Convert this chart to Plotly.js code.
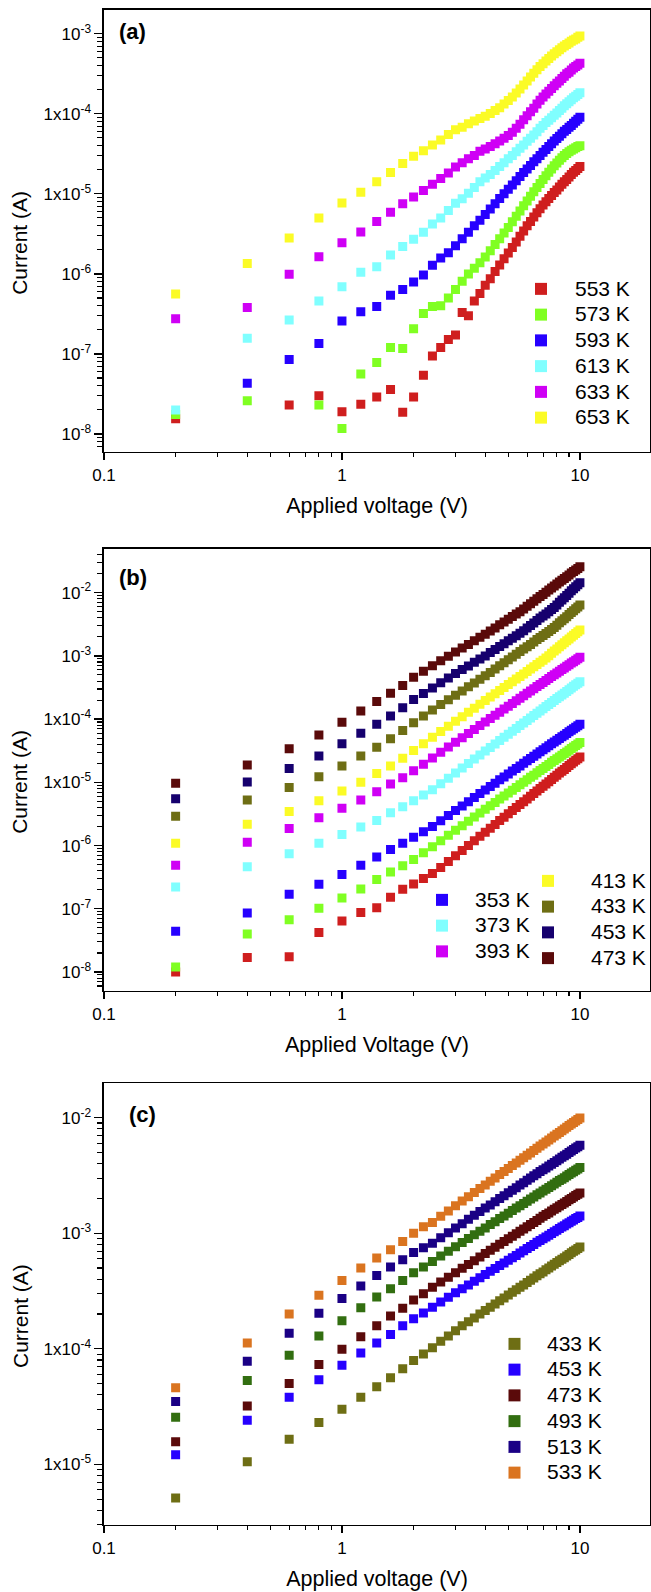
<!DOCTYPE html>
<html>
<head>
<meta charset="utf-8">
<script src="https://cdn.plot.ly/plotly-3.0.1.min.js"></script>
<style>
  html, body { margin: 0; padding: 0; background: #fff; }
  #chart { width: 651px; height: 1592px; }
</style>
</head>
<body>
<div id="chart"></div>
<script>
// Applied voltage (V), shared by all three panels
const V = [0.2, 0.4, 0.6, 0.8, 1.0, 1.2, 1.4, 1.6, 1.8, 2.0,
           2.2, 2.4, 2.6, 2.8, 3.0, 3.2, 3.4, 3.6, 3.8, 4.0,
           4.2, 4.4, 4.6, 4.8, 5.0, 5.2, 5.4, 5.6, 5.8, 6.0,
           6.2, 6.4, 6.6, 6.8, 7.0, 7.2, 7.4, 7.6, 7.8, 8.0,
           8.2, 8.4, 8.6, 8.8, 9.0, 9.2, 9.4, 9.6, 9.8, 10.0];

// ---- Panel (a): current (A) ----
const a553 = [1.55e-8, null, 2.3e-8, 3.0e-8, 1.9e-8, 2.35e-8, 2.9e-8, 3.6e-8, 1.87e-8, 2.9e-8,
  5.4e-8, 9.4e-8, 1.2e-7, 1.52e-7, 1.73e-7, 3.3e-7, 3.0e-7, 4.6e-7, 5.7e-7, 7.2e-7,
  8.7e-7, 1.07e-6, 1.29e-6, 1.55e-6, 1.82e-6, 2.14e-6, 2.51e-6, 2.95e-6, 3.43e-6, 3.98e-6,
  4.52e-6, 5.13e-6, 5.82e-6, 6.53e-6, 7.24e-6, 7.94e-6, 8.71e-6, 9.55e-6, 1.04e-5, 1.12e-5,
  1.22e-5, 1.32e-5, 1.41e-5, 1.51e-5, 1.62e-5, 1.74e-5, 1.86e-5, 1.95e-5, 2.07e-5, 2.19e-5];
const a573 = [1.75e-8, 2.6e-8, null, 2.3e-8, 1.17e-8, 5.6e-8, 7.8e-8, 1.2e-7, 1.17e-7, 2.07e-7,
  3.2e-7, 3.9e-7, 4.0e-7, 5.0e-7, 6.4e-7, 8.1e-7, 1.0e-6, 1.18e-6, 1.38e-6, 1.62e-6,
  1.95e-6, 2.32e-6, 2.75e-6, 3.24e-6, 3.80e-6, 4.47e-6, 5.25e-6, 6.10e-6, 7.08e-6, 8.13e-6,
  9.33e-6, 1.06e-5, 1.20e-5, 1.35e-5, 1.51e-5, 1.68e-5, 1.86e-5, 2.04e-5, 2.24e-5, 2.43e-5,
  2.63e-5, 2.82e-5, 3.02e-5, 3.20e-5, 3.35e-5, 3.51e-5, 3.63e-5, 3.76e-5, 3.89e-5, 3.98e-5];
const a593 = [null, 4.3e-8, 8.5e-8, 1.35e-7, 2.57e-7, 3.37e-7, 3.9e-7, 5.4e-7, 6.4e-7, 7.9e-7,
  9.7e-7, 1.28e-6, 1.58e-6, 1.84e-6, 2.24e-6, 2.75e-6, 3.31e-6, 3.98e-6, 4.68e-6, 5.50e-6,
  6.46e-6, 7.50e-6, 8.71e-6, 1.00e-5, 1.14e-5, 1.29e-5, 1.46e-5, 1.64e-5, 1.84e-5, 2.04e-5,
  2.26e-5, 2.51e-5, 2.75e-5, 3.02e-5, 3.31e-5, 3.59e-5, 3.89e-5, 4.22e-5, 4.57e-5, 4.90e-5,
  5.25e-5, 5.62e-5, 6.03e-5, 6.38e-5, 6.76e-5, 7.16e-5, 7.59e-5, 8.04e-5, 8.51e-5, 9.02e-5];
const a613 = [2.0e-8, 1.57e-7, 2.65e-7, 4.6e-7, 6.9e-7, 1.05e-6, 1.23e-6, 1.72e-6, 2.2e-6, 2.7e-6,
  3.3e-6, 4.2e-6, 5.0e-6, 6.2e-6, 7.6e-6, 8.7e-6, 1.02e-5, 1.2e-5, 1.41e-5, 1.58e-5,
  1.74e-5, 1.95e-5, 2.19e-5, 2.45e-5, 2.75e-5, 3.02e-5, 3.35e-5, 3.72e-5, 4.07e-5, 4.52e-5,
  4.95e-5, 5.43e-5, 5.96e-5, 6.61e-5, 7.16e-5, 7.76e-5, 8.32e-5, 8.91e-5, 9.55e-5, 1.02e-4,
  1.10e-4, 1.17e-4, 1.26e-4, 1.33e-4, 1.41e-4, 1.50e-4, 1.58e-4, 1.66e-4, 1.74e-4, 1.83e-4];
const a633 = [2.75e-7, 3.8e-7, 9.9e-7, 1.64e-6, 2.45e-6, 3.33e-6, 4.5e-6, 5.9e-6, 7.5e-6, 9.1e-6,
  1.1e-5, 1.32e-5, 1.55e-5, 1.82e-5, 2.16e-5, 2.45e-5, 2.75e-5, 3.02e-5, 3.39e-5, 3.63e-5,
  3.89e-5, 4.22e-5, 4.57e-5, 4.95e-5, 5.37e-5, 5.89e-5, 6.61e-5, 7.41e-5, 8.41e-5, 9.44e-5,
  1.06e-4, 1.17e-4, 1.32e-4, 1.48e-4, 1.62e-4, 1.76e-4, 1.91e-4, 2.07e-4, 2.24e-4, 2.40e-4,
  2.57e-4, 2.75e-4, 2.95e-4, 3.16e-4, 3.31e-4, 3.51e-4, 3.72e-4, 3.89e-4, 4.07e-4, 4.27e-4];
const a653 = [5.6e-7, 1.35e-6, 2.8e-6, 5.0e-6, 7.7e-6, 1.05e-5, 1.42e-5, 1.85e-5, 2.4e-5, 2.95e-5,
  3.46e-5, 4.07e-5, 4.7e-5, 5.5e-5, 6.3e-5, 6.8e-5, 7.5e-5, 8.1e-5, 8.7e-5, 9.3e-5,
  1.01e-4, 1.10e-4, 1.19e-4, 1.32e-4, 1.46e-4, 1.62e-4, 1.82e-4, 2.04e-4, 2.29e-4, 2.57e-4,
  2.88e-4, 3.20e-4, 3.55e-4, 3.89e-4, 4.22e-4, 4.57e-4, 4.90e-4, 5.25e-4, 5.62e-4, 5.96e-4,
  6.31e-4, 6.68e-4, 7.00e-4, 7.33e-4, 7.67e-4, 8.04e-4, 8.32e-4, 8.61e-4, 9.02e-4, 9.33e-4];

// ---- Panel (b): current (A) ----
const bRed = [1.0e-8, 1.7e-8, 1.74e-8, 4.2e-8, 6.4e-8, 8.7e-8, 1.04e-7, 1.52e-7, 2.04e-7, 2.46e-7,
  3.0e-7, 3.6e-7, 4.5e-7, 5.61e-7, 6.89e-7, 8.36e-7, 1.00e-6, 1.19e-6, 1.40e-6, 1.63e-6,
  1.88e-6, 2.16e-6, 2.48e-6, 2.81e-6, 3.18e-6, 3.57e-6, 3.99e-6, 4.46e-6, 4.94e-6, 5.47e-6,
  6.03e-6, 6.64e-6, 7.31e-6, 8.00e-6, 8.69e-6, 9.44e-6, 1.02e-5, 1.11e-5, 1.20e-5, 1.29e-5,
  1.40e-5, 1.50e-5, 1.60e-5, 1.72e-5, 1.84e-5, 1.97e-5, 2.09e-5, 2.23e-5, 2.37e-5, 2.52e-5];
const bGreen = [1.2e-8, 4.0e-8, 6.7e-8, 1.02e-7, 1.48e-7, 2.05e-7, 2.9e-7, 3.8e-7, 4.8e-7, 6.0e-7,
  7.7e-7, 9.6e-7, 1.19e-6, 1.45e-6, 1.74e-6, 2.06e-6, 2.42e-6, 2.82e-6, 3.27e-6, 3.74e-6,
  4.25e-6, 4.81e-6, 5.43e-6, 6.07e-6, 6.78e-6, 7.52e-6, 8.28e-6, 9.14e-6, 1.00e-5, 1.10e-5,
  1.20e-5, 1.30e-5, 1.42e-5, 1.54e-5, 1.66e-5, 1.78e-5, 1.92e-5, 2.07e-5, 2.21e-5, 2.36e-5,
  2.52e-5, 2.69e-5, 2.86e-5, 3.03e-5, 3.23e-5, 3.43e-5, 3.62e-5, 3.83e-5, 4.05e-5, 4.28e-5];
const b353 = [4.4e-8, 8.6e-8, 1.7e-7, 2.44e-7, 3.5e-7, 4.9e-7, 6.6e-7, 8.7e-7, 1.09e-6, 1.35e-6,
  1.66e-6, 2.0e-6, 2.47e-6, 2.99e-6, 3.58e-6, 4.24e-6, 4.95e-6, 5.75e-6, 6.65e-6, 7.59e-6,
  8.61e-6, 9.70e-6, 1.10e-5, 1.22e-5, 1.36e-5, 1.51e-5, 1.66e-5, 1.82e-5, 2.00e-5, 2.19e-5,
  2.38e-5, 2.59e-5, 2.81e-5, 3.04e-5, 3.27e-5, 3.52e-5, 3.78e-5, 4.06e-5, 4.34e-5, 4.63e-5,
  4.95e-5, 5.26e-5, 5.58e-5, 5.93e-5, 6.30e-5, 6.68e-5, 7.06e-5, 7.45e-5, 7.87e-5, 8.30e-5];
const b373 = [2.2e-7, 4.6e-7, 7.4e-7, 1.09e-6, 1.5e-6, 1.96e-6, 2.5e-6, 3.3e-6, 4.1e-6, 5.1e-6,
  6.3e-6, 7.6e-6, 9.50e-6, 1.16e-5, 1.41e-5, 1.68e-5, 1.99e-5, 2.33e-5, 2.71e-5, 3.12e-5,
  3.56e-5, 4.05e-5, 4.59e-5, 5.15e-5, 5.77e-5, 6.43e-5, 7.13e-5, 7.89e-5, 8.67e-5, 9.53e-5,
  1.04e-4, 1.14e-4, 1.24e-4, 1.35e-4, 1.46e-4, 1.58e-4, 1.70e-4, 1.84e-4, 1.97e-4, 2.11e-4,
  2.26e-4, 2.41e-4, 2.57e-4, 2.74e-4, 2.92e-4, 3.11e-4, 3.30e-4, 3.49e-4, 3.69e-4, 3.91e-4];
const b393 = [4.9e-7, 1.13e-6, 1.86e-6, 2.76e-6, 3.9e-6, 5.25e-6, 7.1e-6, 9.4e-6, 1.18e-5, 1.52e-5,
  1.94e-5, 2.43e-5, 2.99e-5, 3.61e-5, 4.31e-5, 5.08e-5, 5.93e-5, 6.87e-5, 7.92e-5, 9.03e-5,
  1.02e-4, 1.15e-4, 1.29e-4, 1.44e-4, 1.60e-4, 1.77e-4, 1.95e-4, 2.14e-4, 2.34e-4, 2.56e-4,
  2.78e-4, 3.02e-4, 3.28e-4, 3.54e-4, 3.80e-4, 4.08e-4, 4.39e-4, 4.71e-4, 5.02e-4, 5.36e-4,
  5.71e-4, 6.07e-4, 6.44e-4, 6.84e-4, 7.24e-4, 7.69e-4, 8.11e-4, 8.55e-4, 9.02e-4, 9.53e-4];
const b413 = [1.09e-6, 2.17e-6, 3.45e-6, 5.1e-6, 7.3e-6, 1.0e-5, 1.38e-5, 1.82e-5, 2.4e-5, 3.2e-5,
  4.09e-5, 5.15e-5, 6.37e-5, 7.73e-5, 9.25e-5, 1.09e-4, 1.28e-4, 1.49e-4, 1.72e-4, 1.97e-4,
  2.23e-4, 2.52e-4, 2.84e-4, 3.17e-4, 3.53e-4, 3.91e-4, 4.31e-4, 4.74e-4, 5.19e-4, 5.69e-4,
  6.18e-4, 6.73e-4, 7.33e-4, 7.92e-4, 8.51e-4, 9.27e-4, 1.01e-3, 1.10e-3, 1.19e-3, 1.29e-3,
  1.39e-3, 1.50e-3, 1.61e-3, 1.73e-3, 1.85e-3, 1.99e-3, 2.12e-3, 2.26e-3, 2.42e-3, 2.57e-3];
const b433 = [2.9e-6, 5.25e-6, 8.3e-6, 1.23e-5, 1.82e-5, 2.6e-5, 3.6e-5, 4.9e-5, 6.6e-5, 8.8e-5,
  1.12e-4, 1.40e-4, 1.70e-4, 2.02e-4, 2.38e-4, 2.79e-4, 3.24e-4, 3.73e-4, 4.28e-4, 4.84e-4,
  5.48e-4, 6.19e-4, 6.98e-4, 7.78e-4, 8.67e-4, 9.62e-4, 1.06e-3, 1.17e-3, 1.28e-3, 1.40e-3,
  1.52e-3, 1.66e-3, 1.81e-3, 1.95e-3, 2.10e-3, 2.26e-3, 2.44e-3, 2.62e-3, 2.82e-3, 3.06e-3,
  3.33e-3, 3.60e-3, 3.87e-3, 4.18e-3, 4.51e-3, 4.86e-3, 5.20e-3, 5.57e-3, 5.96e-3, 6.38e-3];
const b453 = [5.5e-6, 1.01e-5, 1.66e-5, 2.6e-5, 4.07e-5, 6.0e-5, 8.3e-5, 1.12e-4, 1.51e-4, 2.04e-4,
  2.55e-4, 3.12e-4, 3.77e-4, 4.48e-4, 5.25e-4, 6.07e-4, 6.95e-4, 7.91e-4, 8.95e-4, 1.00e-3,
  1.13e-3, 1.26e-3, 1.41e-3, 1.56e-3, 1.73e-3, 1.90e-3, 2.08e-3, 2.28e-3, 2.51e-3, 2.77e-3,
  3.03e-3, 3.32e-3, 3.64e-3, 3.96e-3, 4.28e-3, 4.62e-3, 5.00e-3, 5.41e-3, 5.85e-3, 6.41e-3,
  7.03e-3, 7.64e-3, 8.30e-3, 9.03e-3, 9.82e-3, 1.07e-2, 1.15e-2, 1.24e-2, 1.33e-2, 1.44e-2];
const b473 = [9.7e-6, 1.88e-5, 3.4e-5, 5.6e-5, 8.9e-5, 1.35e-4, 1.9e-4, 2.57e-4, 3.4e-4, 4.61e-4,
  5.71e-4, 6.97e-4, 8.36e-4, 9.86e-4, 1.15e-3, 1.33e-3, 1.52e-3, 1.74e-3, 1.97e-3, 2.21e-3,
  2.48e-3, 2.77e-3, 3.10e-3, 3.44e-3, 3.80e-3, 4.19e-3, 4.58e-3, 5.01e-3, 5.52e-3, 6.08e-3,
  6.67e-3, 7.30e-3, 8.00e-3, 8.71e-3, 9.40e-3, 1.02e-2, 1.10e-2, 1.19e-2, 1.28e-2, 1.37e-2,
  1.47e-2, 1.57e-2, 1.67e-2, 1.79e-2, 1.91e-2, 2.04e-2, 2.16e-2, 2.29e-2, 2.42e-2, 2.57e-2];

// ---- Panel (c): current (A) ----
const c433 = [5.1e-6, 1.05e-5, 1.65e-5, 2.3e-5, 3.0e-5, 3.8e-5, 4.7e-5, 5.6e-5, 6.7e-5, 7.9e-5,
  9.0e-5, 1.02e-4, 1.16e-4, 1.29e-4, 1.43e-4, 1.58e-4, 1.71e-4, 1.85e-4, 2.00e-4, 2.14e-4,
  2.29e-4, 2.44e-4, 2.60e-4, 2.75e-4, 2.92e-4, 3.08e-4, 3.24e-4, 3.40e-4, 3.57e-4, 3.75e-4,
  3.92e-4, 4.09e-4, 4.28e-4, 4.47e-4, 4.63e-4, 4.82e-4, 5.00e-4, 5.20e-4, 5.38e-4, 5.57e-4,
  5.78e-4, 5.96e-4, 6.15e-4, 6.35e-4, 6.56e-4, 6.78e-4, 6.97e-4, 7.16e-4, 7.38e-4, 7.59e-4];
const c453 = [1.21e-5, 2.4e-5, 3.8e-5, 5.4e-5, 7.2e-5, 9.2e-5, 1.12e-4, 1.33e-4, 1.58e-4, 1.82e-4,
  2.04e-4, 2.29e-4, 2.54e-4, 2.79e-4, 3.05e-4, 3.30e-4, 3.56e-4, 3.84e-4, 4.12e-4, 4.40e-4,
  4.68e-4, 4.95e-4, 5.26e-4, 5.53e-4, 5.83e-4, 6.14e-4, 6.43e-4, 6.75e-4, 7.05e-4, 7.36e-4,
  7.67e-4, 8.00e-4, 8.34e-4, 8.65e-4, 8.95e-4, 9.29e-4, 9.62e-4, 9.95e-4, 1.03e-3, 1.06e-3,
  1.10e-3, 1.13e-3, 1.16e-3, 1.20e-3, 1.23e-3, 1.27e-3, 1.30e-3, 1.34e-3, 1.37e-3, 1.41e-3];
const c473 = [1.57e-5, 3.2e-5, 5.0e-5, 7.3e-5, 9.9e-5, 1.27e-4, 1.58e-4, 1.92e-4, 2.24e-4, 2.64e-4,
  3.0e-4, 3.4e-4, 3.78e-4, 4.16e-4, 4.56e-4, 4.97e-4, 5.37e-4, 5.79e-4, 6.24e-4, 6.67e-4,
  7.11e-4, 7.55e-4, 8.04e-4, 8.47e-4, 8.95e-4, 9.44e-4, 9.91e-4, 1.04e-3, 1.09e-3, 1.14e-3,
  1.19e-3, 1.24e-3, 1.29e-3, 1.35e-3, 1.40e-3, 1.45e-3, 1.50e-3, 1.56e-3, 1.61e-3, 1.66e-3,
  1.72e-3, 1.77e-3, 1.83e-3, 1.88e-3, 1.95e-3, 2.00e-3, 2.06e-3, 2.12e-3, 2.18e-3, 2.23e-3];
const c493 = [2.55e-5, 5.3e-5, 8.8e-5, 1.29e-4, 1.75e-4, 2.26e-4, 2.8e-4, 3.3e-4, 3.9e-4, 4.55e-4,
  5.1e-4, 5.7e-4, 6.34e-4, 6.98e-4, 7.64e-4, 8.32e-4, 8.99e-4, 9.70e-4, 1.04e-3, 1.11e-3,
  1.19e-3, 1.26e-3, 1.34e-3, 1.41e-3, 1.49e-3, 1.57e-3, 1.65e-3, 1.73e-3, 1.81e-3, 1.89e-3,
  1.98e-3, 2.06e-3, 2.15e-3, 2.23e-3, 2.32e-3, 2.40e-3, 2.49e-3, 2.58e-3, 2.67e-3, 2.76e-3,
  2.86e-3, 2.94e-3, 3.03e-3, 3.13e-3, 3.22e-3, 3.32e-3, 3.41e-3, 3.51e-3, 3.60e-3, 3.70e-3];
const c513 = [3.5e-5, 7.8e-5, 1.36e-4, 2.03e-4, 2.73e-4, 3.5e-4, 4.3e-4, 5.1e-4, 5.9e-4, 6.8e-4,
  7.5e-4, 8.2e-4, 9.14e-4, 1.01e-3, 1.11e-3, 1.21e-3, 1.32e-3, 1.43e-3, 1.54e-3, 1.65e-3,
  1.76e-3, 1.87e-3, 2.00e-3, 2.11e-3, 2.24e-3, 2.36e-3, 2.48e-3, 2.61e-3, 2.74e-3, 2.88e-3,
  3.01e-3, 3.14e-3, 3.28e-3, 3.42e-3, 3.55e-3, 3.68e-3, 3.82e-3, 3.96e-3, 4.10e-3, 4.25e-3,
  4.40e-3, 4.54e-3, 4.69e-3, 4.84e-3, 5.00e-3, 5.16e-3, 5.31e-3, 5.46e-3, 5.61e-3, 5.77e-3];
const c533 = [4.6e-5, 1.12e-4, 2.0e-4, 2.9e-4, 3.9e-4, 5.0e-4, 6.1e-4, 7.2e-4, 8.5e-4, 1.0e-3,
  1.14e-3, 1.24e-3, 1.40e-3, 1.56e-3, 1.73e-3, 1.90e-3, 2.07e-3, 2.25e-3, 2.44e-3, 2.62e-3,
  2.82e-3, 3.01e-3, 3.22e-3, 3.42e-3, 3.63e-3, 3.85e-3, 4.06e-3, 4.28e-3, 4.50e-3, 4.73e-3,
  4.95e-3, 5.20e-3, 5.45e-3, 5.69e-3, 5.93e-3, 6.17e-3, 6.43e-3, 6.68e-3, 6.93e-3, 7.19e-3,
  7.46e-3, 7.73e-3, 7.98e-3, 8.26e-3, 8.55e-3, 8.83e-3, 9.10e-3, 9.38e-3, 9.66e-3, 9.95e-3];

// Tick labels
const xTickVals = [0.1, 1, 10];
const xTickText = ['0.1', '1', '10'];
const yTickValsA = [1e-8, 1e-7, 1e-6, 1e-5, 1e-4, 1e-3];
const yTickTextA = ['10<sup>-8</sup>', '10<sup>-7</sup>', '10<sup>-6</sup>', '1x10<sup>-5</sup>', '1x10<sup>-4</sup>', '10<sup>-3</sup>'];
const yTickValsB = [1e-8, 1e-7, 1e-6, 1e-5, 1e-4, 1e-3, 1e-2];
const yTickTextB = ['10<sup>-8</sup>', '10<sup>-7</sup>', '10<sup>-6</sup>', '1x10<sup>-5</sup>', '1x10<sup>-4</sup>', '10<sup>-3</sup>', '10<sup>-2</sup>'];
const yTickValsC = [1e-5, 1e-4, 1e-3, 1e-2];
const yTickTextC = ['1x10<sup>-5</sup>', '1x10<sup>-4</sup>', '10<sup>-3</sup>', '10<sup>-2</sup>'];

// Colours
const COL = {
  red: '#cf1e1e', green: '#80ff22', blue: '#2600ff', cyan: '#80ffff',
  magenta: '#cf00f5', yellow: '#fbfb26', olive: '#6e6e14', navy: '#16006e',
  wine: '#5a0a0a', forest: '#326e10', navy2: '#1a0085', orange: '#da7420'
};

const W = 651, H = 1592;
const FONT = 'Liberation Sans, Arial, Helvetica, sans-serif';
const px = x => x / W;            // horizontal pixel -> paper
const py = y => 1 - y / H;        // vertical pixel -> paper

function series(y, name, color, ax, legend, show) {
  return {
    x: V, y: y, name: '<span style="font-size:21px">' + name + '</span>',
    type: 'scatter', mode: 'markers',
    xaxis: 'x' + ax, yaxis: 'y' + ax,
    marker: { symbol: 'square', size: 9, color: color, line: { width: 0 } },
    legend: legend, showlegend: show !== false,
    hoverinfo: 'x+y'
  };
}

const data = [
  series(a553, '553 K', COL.red, '', 'legend'),
  series(a573, '573 K', COL.green, '', 'legend'),
  series(a593, '593 K', COL.blue, '', 'legend'),
  series(a613, '613 K', COL.cyan, '', 'legend'),
  series(a633, '633 K', COL.magenta, '', 'legend'),
  series(a653, '653 K', COL.yellow, '', 'legend'),

  series(bRed, 'b1', COL.red, '2', 'legend2', false),
  series(bGreen, 'b2', COL.green, '2', 'legend2', false),
  series(b353, '353 K', COL.blue, '2', 'legend2'),
  series(b373, '373 K', COL.cyan, '2', 'legend2'),
  series(b393, '393 K', COL.magenta, '2', 'legend2'),
  series(b413, '413 K', COL.yellow, '2', 'legend3'),
  series(b433, '433 K', COL.olive, '2', 'legend3'),
  series(b453, '453 K', COL.navy, '2', 'legend3'),
  series(b473, '473 K', COL.wine, '2', 'legend3'),

  series(c433, '433 K', COL.olive, '3', 'legend4'),
  series(c453, '453 K', COL.blue, '3', 'legend4'),
  series(c473, '473 K', COL.wine, '3', 'legend4'),
  series(c493, '493 K', COL.forest, '3', 'legend4'),
  series(c513, '513 K', COL.navy2, '3', 'legend4'),
  series(c533, '533 K', COL.orange, '3', 'legend4')
];

// Plot areas in pixels: left 104, right 650
const X_DOM = [px(104), px(650)];
const X_RANGE = [-1, 1.2945];
const panels = [
  { top: 10, bottom: 451.7, yr: [-8.221, -2.704], tv: yTickValsA, tt: yTickTextA, xt: 'Applied voltage (V)' },
  { top: 549, bottom: 990.7, yr: [-8.296, -1.309], tv: yTickValsB, tt: yTickTextB, xt: 'Applied Voltage (V)' },
  { top: 1083.3, bottom: 1524.7, yr: [-5.523, -1.702], tv: yTickValsC, tt: yTickTextC, xt: 'Applied voltage (V)' }
];

const layout = {
  width: W, height: H,
  margin: { l: 0, r: 0, t: 0, b: 0 },
  paper_bgcolor: '#ffffff', plot_bgcolor: '#ffffff',
  font: { family: FONT, color: '#000000', size: 17 },
  annotations: [],
  hovermode: false
};

panels.forEach((p, i) => {
  const s = i === 0 ? '' : String(i + 1);
  layout['xaxis' + s] = {
    type: 'log', domain: X_DOM, range: X_RANGE, anchor: 'y' + s,
    tickmode: 'array', tickvals: xTickVals, ticktext: xTickText,
    ticks: 'outside', ticklen: 7, tickwidth: 1.3, tickcolor: '#000',
    minor: { ticks: 'outside', ticklen: 4, tickwidth: 1.1, tickcolor: '#000', dtick: 'D1', showgrid: false },
    showline: true, linewidth: 1.6, linecolor: '#000', mirror: true,
    showgrid: false, zeroline: false,
    tickfont: { family: FONT, size: 17, color: '#000' },
    title: { text: p.xt, font: { family: FONT, size: 21.5, color: '#000' }, standoff: 14 }
  };
  layout['yaxis' + s] = {
    type: 'log', domain: [py(p.bottom), py(p.top)], range: p.yr, anchor: 'x' + s,
    tickmode: 'array', tickvals: p.tv, ticktext: p.tt,
    ticks: 'outside', ticklen: 8, tickwidth: 1.3, tickcolor: '#000',
    minor: { ticks: 'outside', ticklen: 5, tickwidth: 1.1, tickcolor: '#000', dtick: 'D1', showgrid: false },
    showline: true, linewidth: 1.6, linecolor: '#000', mirror: true,
    showgrid: false, zeroline: false,
    tickfont: { family: FONT, size: 17, color: '#000' }
  };
  // vertical axis title, set slightly below the middle of the plot area
  layout.annotations.push({
    text: 'Current (A)', xref: 'paper', yref: 'paper',
    x: px(20), y: py((p.top + p.bottom) / 2 + 12), xanchor: 'center', yanchor: 'middle',
    textangle: -90, showarrow: false,
    font: { family: FONT, size: 21, color: '#000' }
  });
});

// Panel letters
[['(a)', 117, 32], ['(b)', 117, 577], ['(c)', 127, 1114]].forEach(([t, x, y]) => {
  layout.annotations.push({
    text: '<b>' + t + '</b>', xref: 'paper', yref: 'paper',
    x: px(x), y: py(y), xanchor: 'left', yanchor: 'middle', showarrow: false,
    font: { family: FONT, size: 22, color: '#000' }
  });
});

// Legends
function legendAt(left, top, itemwidth) {
  return {
    x: px(left), y: py(top), xanchor: 'left', yanchor: 'top',
    bgcolor: 'rgba(0,0,0,0)', borderwidth: 0,
    font: { family: FONT, size: 17.5, color: '#000' },
    itemsizing: 'constant', itemwidth: itemwidth, tracegroupgap: 0
  };
}
layout.legend = legendAt(507, 271, 58);
layout.legend2 = legendAt(409, 882, 56);
layout.legend3 = legendAt(505, 863, 76);
layout.legend4 = legendAt(482, 1326, 55);

Plotly.newPlot('chart', data, layout, { staticPlot: true, displayModeBar: false });
</script>
</body>
</html>
